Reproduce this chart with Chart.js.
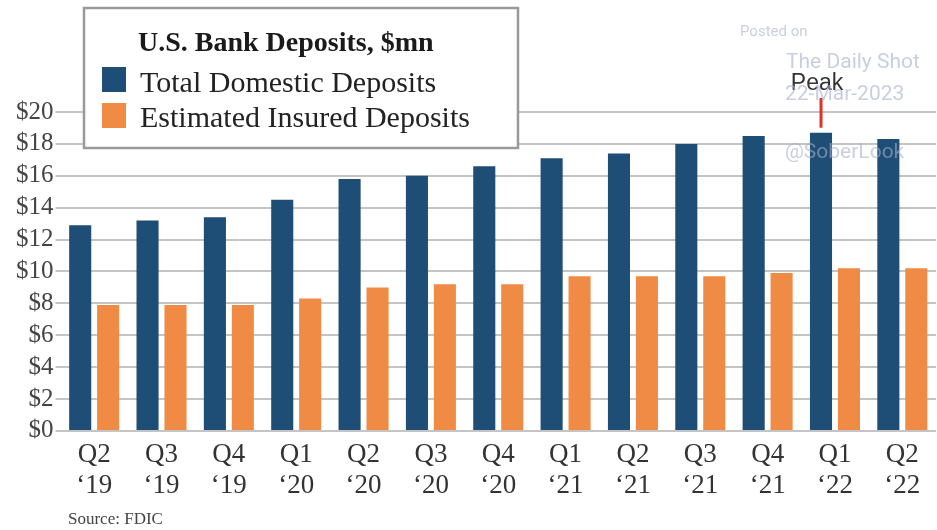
<!DOCTYPE html>
<html>
<head>
<meta charset="utf-8">
<script src="https://cdn.jsdelivr.net/npm/chart.js@4.4.0/dist/chart.umd.min.js"></script>
<style>
  body { margin: 0; background: #fff; }
  #wrap { width: 937px; height: 530px; }
</style>
</head>
<body>
<div id="wrap"><canvas id="deposits"></canvas></div>
<script>
// data ($ trillions, labelled $mn on the original)
var quarters = ["Q2","Q3","Q4","Q1","Q2","Q3","Q4","Q1","Q2","Q3","Q4","Q1","Q2"];
var years = ["‘19","‘19","‘19","‘20","‘20","‘20","‘20","‘21","‘21","‘21","‘21","‘22","‘22"];
var totalDomestic = [12.9,13.2,13.4,14.5,15.8,16.0,16.6,17.1,17.4,18.0,18.5,18.7,18.3];
var insuredDeposits = [7.9,7.9,7.9,8.3,9.0,9.2,9.2,9.7,9.7,9.7,9.9,10.2,10.2];
var seriesNames = ["Total Domestic Deposits","Estimated Insured Deposits"];
var chartTitle = "U.S. Bank Deposits, $mn";
var sourceNote = "Source: FDIC";

var serif = "'Liberation Serif', 'Times New Roman', serif";
var sans = "'Liberation Sans', Arial, sans-serif";

var overlay = {
  id: 'overlay',
  afterDraw: function(chart) {
    var ctx = chart.ctx;
    ctx.save();

    // legend box
    ctx.fillStyle = '#fff';
    ctx.fillRect(84, 8, 434, 140);
    ctx.strokeStyle = '#9a9a9a';
    ctx.lineWidth = 2.5;
    ctx.strokeRect(84, 8, 434, 140);

    ctx.textBaseline = 'alphabetic';
    ctx.textAlign = 'left';
    ctx.fillStyle = '#1a1a1a';
    ctx.font = 'bold 28px ' + serif;
    ctx.fillText(chartTitle, 138, 51);

    chart.data.datasets.forEach(function(ds, i) {
      ctx.fillStyle = ds.backgroundColor;
      ctx.fillRect(102, 67 + i * 36, 24, 25);
      ctx.fillStyle = '#222';
      ctx.font = '30px ' + serif;
      ctx.fillText(ds.label, 140, 92 + i * 35);
    });

    // peak marker over the highest blue bar
    var peakIdx = totalDomestic.indexOf(Math.max.apply(null, totalDomestic));
    var bar = chart.getDatasetMeta(0).data[peakIdx];
    ctx.strokeStyle = '#e0302a';
    ctx.lineWidth = 3;
    ctx.beginPath();
    ctx.moveTo(bar.x, bar.y - 5);
    ctx.lineTo(bar.x, 98);
    ctx.stroke();
    ctx.fillStyle = '#333';
    ctx.font = '23px ' + sans;
    ctx.textAlign = 'center';
    ctx.fillText('Peak', bar.x - 4, 90);

    // watermark
    ctx.textAlign = 'left';
    ctx.fillStyle = 'rgba(165,175,205,0.6)';
    ctx.font = '15px Roboto, ' + sans;
    ctx.fillText('Posted on', 740, 36);
    ctx.font = '21px Roboto, ' + sans;
    ctx.fillText('The Daily Shot', 786, 68);
    ctx.fillText('22-Mar-2023', 785, 100);
    ctx.fillText('@SoberLook', 785, 158);

    // source
    ctx.fillStyle = '#444';
    ctx.font = '17px ' + serif;
    ctx.fillText(sourceNote, 68, 524);

    ctx.restore();
  }
};

var ctxEl = document.getElementById('deposits');
var depChart = new Chart(ctxEl, {
  type: 'bar',
  data: {
    labels: quarters.map(function(q, i) { return [q, years[i]]; }),
    datasets: [{
        label: seriesNames[0],
        data: totalDomestic,
        backgroundColor: '#1e4d75',
        categoryPercentage: 0.83,
        barPercentage: 0.79
      }, {
        label: seriesNames[1],
        data: insuredDeposits,
        backgroundColor: '#ef8b45',
        categoryPercentage: 0.83,
        barPercentage: 0.79
      }
    ]
  },
  options: {
    responsive: true,
    maintainAspectRatio: false,
    animation: false,
    layout: { padding: { top: 112, left: 14, right: 1, bottom: 29 } },
    plugins: {
      legend: { display: false },
      title: { display: false },
      tooltip: { enabled: false }
    },
    scales: {
      x: {
        grid: { display: false },
        border: { display: false },
        ticks: {
          color: '#333',
          padding: 0,
          maxRotation: 0,
          font: { family: serif, size: 27, lineHeight: 1.15 }
        }
      },
      y: {
        min: 0,
        max: 20,
        border: { display: false },
        grid: { color: '#c4c4c4', lineWidth: 2, tickLength: 5 },
        ticks: {
          stepSize: 2,
          autoSkip: false,
          color: '#444',
          padding: 2,
          font: { family: serif, size: 25 },
          callback: function(v) { return '$' + v; }
        }
      }
    }
  },
  plugins: [overlay]
});
</script>
</body>
</html>
